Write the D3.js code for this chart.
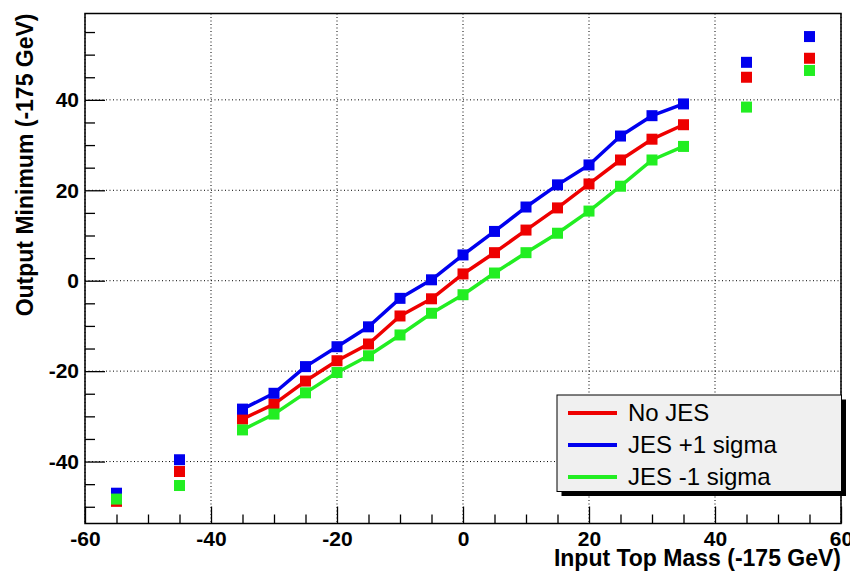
<!DOCTYPE html>
<html>
  <head>
    <meta charset="utf-8" />
    <script src="https://d3js.org/d3.v7.min.js"></script>
    <title>Output Minimum vs Input Top Mass</title>
    <style>
      body {
        margin: 0px;
        overflow: hidden;
        background: white;
        font-family: 'Liberation Sans', Arial, sans-serif;
      }
      svg {
        display: block;
      }
      .domain {
        display: none;
      }
      .tick line {
        stroke: black;
        stroke-width: 1.3;
      }
      .tick text {
        fill: black;
        font-size: 21px;
        font-weight: bold;
      }
      .axis-label {
        fill: black;
        font-size: 23px;
        font-weight: bold;
      }
      .grid line {
        stroke: black;
        stroke-width: 1;
        stroke-dasharray: 1, 2.5;
      }
      .legend text {
        font-size: 24px;
        fill: black;
      }
    </style>
  </head>
  <body>
    <script>
      // input top mass points (-175 GeV)
      const massPoints = [-55, -45, -35, -30, -25, -20, -15, -10, -5, 0, 5, 10, 15, 20, 25, 30, 35, 45, 55];
      // output minimum (-175 GeV) per JES setting
      const noJES = [-48.8, -42.2, -30.6, -27.3, -22.2, -17.7, -14.0, -7.8, -4.0, 1.5, 6.2, 11.2, 16.1, 21.4, 26.7, 31.3, 34.5, 45.0, 49.2];
      const jesUp = [-47.0, -39.6, -28.4, -24.9, -19.0, -14.6, -10.2, -3.9, 0.2, 5.7, 10.9, 16.3, 21.2, 25.6, 32.0, 36.5, 39.1, 48.3, 54.0];
      const jesDown = [-48.3, -45.3, -33.0, -29.5, -24.8, -20.3, -16.6, -12.0, -7.2, -3.1, 1.7, 6.2, 10.5, 15.4, 20.9, 26.7, 29.7, 38.4, 46.5];
      const seriesNames = ['No JES', 'JES +1 sigma', 'JES -1 sigma'];
      const seriesColors = ['#ee0000', '#0000ee', '#22ee22'];
      const xTicks = [-60, -40, -20, 0, 20, 40, 60];
      const yTicks = [-40, -20, 0, 20, 40];
      const fitRange = [-35, 35];

      const width = 850;
      const height = 578;
      const margin = { left: 85, right: 9, top: 13.5, bottom: 54.5 };
      const innerWidth = width - margin.left - margin.right;
      const innerHeight = height - margin.top - margin.bottom;

      const series = [noJES, jesUp, jesDown].map((vals, i) => ({
        name: seriesNames[i],
        color: seriesColors[i],
        points: massPoints.map((x, j) => ({ x, y: vals[j] })),
      }));

      const svg = d3.select('body').append('svg')
        .attr('width', width)
        .attr('height', height);

      const g = svg.append('g')
        .attr('transform', `translate(${margin.left},${margin.top})`);

      const xScale = d3.scaleLinear().domain([-60, 60]).range([0, innerWidth]);
      const yScale = d3.scaleLinear().domain([-53.7, 59.1]).range([innerHeight, 0]);

      // dotted grid
      const grid = g.append('g').attr('class', 'grid');
      grid.selectAll('.gx').data(xTicks).enter().append('line')
        .attr('x1', d => xScale(d)).attr('x2', d => xScale(d))
        .attr('y1', 0).attr('y2', innerHeight);
      grid.selectAll('.gy').data(yTicks).enter().append('line')
        .attr('x1', 0).attr('x2', innerWidth)
        .attr('y1', d => yScale(d)).attr('y2', d => yScale(d));

      // minor ticks (no labels)
      const minorX = d3.range(-55, 60, 5).filter(d => d % 20 !== 0);
      const minorY = d3.range(-50, 60, 5).filter(d => d % 20 !== 0);
      g.append('g')
        .attr('transform', `translate(0,${innerHeight})`)
        .call(d3.axisBottom(xScale).tickValues(minorX).tickSize(-9))
        .selectAll('text').remove();
      g.append('g')
        .call(d3.axisLeft(yScale).tickValues(minorY).tickSize(-10))
        .selectAll('text').remove();

      // major ticks
      const fmt = d => String(d);
      g.append('g')
        .attr('transform', `translate(0,${innerHeight})`)
        .call(d3.axisBottom(xScale).tickValues(xTicks).tickFormat(fmt).tickSize(-17))
        .selectAll('text')
        .attr('dy', null)
        .attr('y', 22.5);
      g.append('g')
        .call(d3.axisLeft(yScale).tickValues(yTicks).tickFormat(fmt).tickSize(-20).tickPadding(6));

      // series
      const line = d3.line().x(d => xScale(d.x)).y(d => yScale(d.y));
      const size = 11;
      series.forEach(s => {
        const fitPts = s.points.filter(p => p.x >= fitRange[0] && p.x <= fitRange[1]);
        g.append('path')
          .attr('d', line(fitPts))
          .attr('fill', 'none')
          .attr('stroke', s.color)
          .attr('stroke-width', 3.5)
          .attr('stroke-linejoin', 'round');
        g.append('g').selectAll('rect').data(s.points).enter().append('rect')
          .attr('x', d => xScale(d.x) - size / 2)
          .attr('y', d => yScale(d.y) - size / 2)
          .attr('width', size)
          .attr('height', size)
          .attr('fill', s.color);
      });

      // frame
      g.append('rect')
        .attr('width', innerWidth).attr('height', innerHeight)
        .attr('fill', 'none').attr('stroke', 'black').attr('stroke-width', 1.5);

      // axis titles
      g.append('text')
        .attr('class', 'axis-label')
        .attr('x', innerWidth)
        .attr('y', innerHeight + 42)
        .attr('text-anchor', 'end')
        .text('Input Top Mass (-175 GeV)');

      g.append('text')
        .attr('class', 'axis-label')
        .attr('transform', `translate(${33 - margin.left},0) rotate(-90)`)
        .attr('text-anchor', 'end')
        .text('Output Minimum (-175 GeV)');

      // legend
      const legend = svg.append('g').attr('class', 'legend')
        .attr('transform', 'translate(557,395)');
      const lw = 284.5, lh = 96.5;
      legend.append('rect')
        .attr('x', 4.5).attr('y', 4.5).attr('width', lw).attr('height', lh)
        .attr('fill', 'black');
      legend.append('rect')
        .attr('width', lw).attr('height', lh)
        .attr('fill', '#f0f0f0').attr('stroke', 'black').attr('stroke-width', 1);
      const entries = legend.selectAll('.entry').data(series).enter().append('g')
        .attr('transform', (d, i) => `translate(0,${18 + i * 32})`);
      entries.append('line')
        .attr('x1', 11).attr('x2', 60)
        .attr('stroke', d => d.color).attr('stroke-width', 4);
      entries.append('text')
        .attr('x', 71).attr('dy', '0.35em')
        .text(d => d.name);
    </script>
  </body>
</html>
